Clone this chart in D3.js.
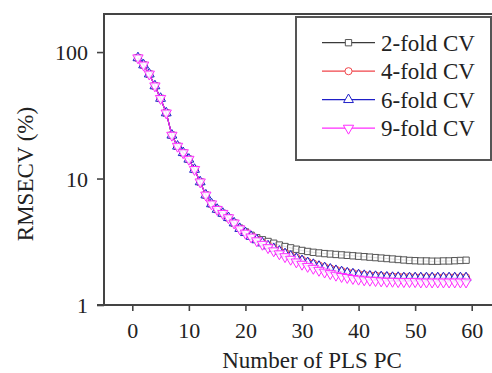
<!DOCTYPE html>
<html>
<head>
<meta charset="utf-8">
<script src="https://cdn.jsdelivr.net/npm/d3@7/dist/d3.min.js"></script>
<style>
  html, body { margin: 0; padding: 0; background: #fff; }
  svg { display: block; }
  svg text { font-family: "Liberation Serif", "DejaVu Serif", "Times New Roman", Times, serif !important; fill: #222; }
</style>
</head>
<body>
<svg id="chart" width="492" height="373"></svg>
<script>
// Number of PLS principal components
const pcs = d3.range(1, 60);

// RMSECV (%) for each cross-validation scheme
const fold2 = [90, 79, 67, 54, 43, 33, 22, 18, 16, 14.2, 11.8, 9.4, 7.4, 6.3, 5.7, 5.3, 4.9, 4.45, 4.05, 3.78,
  3.56, 3.4, 3.28, 3.18, 3.08, 2.98, 2.9, 2.83, 2.76, 2.7, 2.65, 2.61, 2.58, 2.55, 2.53, 2.51, 2.49, 2.47, 2.45, 2.43,
  2.41, 2.39, 2.37, 2.35, 2.33, 2.31, 2.29, 2.27, 2.25, 2.24, 2.23, 2.23, 2.22, 2.22, 2.23, 2.23, 2.24, 2.25, 2.26];
const fold4 = [90, 79, 67, 54, 43, 33, 22, 18, 16, 14.2, 11.8, 9.4, 7.4, 6.3, 5.7, 5.3, 4.9, 4.45, 4.02, 3.74,
  3.5, 3.3, 3.12, 2.97, 2.83, 2.7, 2.58, 2.47, 2.37, 2.28, 2.2, 2.13, 2.06, 2.0, 1.95, 1.9, 1.86, 1.82, 1.79, 1.76,
  1.74, 1.72, 1.71, 1.7, 1.69, 1.68, 1.68, 1.67, 1.67, 1.66, 1.66, 1.66, 1.66, 1.66, 1.66, 1.66, 1.66, 1.66, 1.66];
const fold6 = [90, 79, 67, 54, 43, 33, 22, 18, 16, 14.2, 11.8, 9.4, 7.4, 6.3, 5.7, 5.3, 4.9, 4.45, 4.02, 3.73,
  3.48, 3.27, 3.09, 2.93, 2.79, 2.66, 2.54, 2.43, 2.33, 2.24, 2.16, 2.09, 2.02, 1.97, 1.92, 1.87, 1.83, 1.79, 1.76, 1.73,
  1.71, 1.69, 1.68, 1.67, 1.66, 1.65, 1.65, 1.64, 1.64, 1.64, 1.64, 1.64, 1.64, 1.64, 1.64, 1.64, 1.64, 1.64, 1.64];
const fold9 = [90, 79, 67, 54, 43, 33, 22, 18, 16, 14.2, 11.8, 9.4, 7.4, 6.3, 5.7, 5.3, 4.9, 4.45, 4.0, 3.7,
  3.45, 3.22, 3.02, 2.84, 2.68, 2.54, 2.41, 2.3, 2.19, 2.1, 2.02, 1.95, 1.88, 1.82, 1.77, 1.72, 1.68, 1.65, 1.62, 1.6,
  1.58, 1.57, 1.56, 1.55, 1.54, 1.54, 1.53, 1.53, 1.53, 1.53, 1.52, 1.52, 1.52, 1.52, 1.52, 1.52, 1.52, 1.52, 1.52];

const seriesNames = ["2-fold CV", "4-fold CV", "6-fold CV", "9-fold CV"];
const seriesColors = ["#3a3a3a", "#f0454a", "#1f1fc8", "#ff2cff"];
const markerColors = ["#555555", "#f0454a", "#1f1fc8", "#ff2cff"];
const markerShapes = [d3.symbolSquare, d3.symbolCircle, d3.symbolTriangle, "triangleDown"];

const xTicks = [0, 10, 20, 30, 40, 50, 60];
const yTicks = [1, 10, 100];

const FONT = "'Liberation Serif', 'DejaVu Serif', 'Times New Roman', serif";

const svg = d3.select("#chart");

const x = d3.scaleLinear().domain([-5, 65]).range([104, 500]);
const y = d3.scaleLog().domain([1, 200]).range([305, 14]);

const axisColor = "#444";

// plot frame (the right side runs past the edge of the canvas)
svg.append("rect")
  .attr("x", x(-5)).attr("y", y(200))
  .attr("width", x(65) - x(-5)).attr("height", y(1) - y(200))
  .attr("fill", "none").attr("stroke", axisColor).attr("stroke-width", 2);

// y axis
const yAxis = svg.append("g").attr("transform", `translate(${x(-5)},0)`)
  .call(d3.axisLeft(y).tickValues(yTicks).tickFormat(d3.format("d")).tickSize(7).tickPadding(9));
yAxis.attr("font-family", FONT);
yAxis.select(".domain").remove();
yAxis.selectAll("line").attr("stroke", axisColor).attr("stroke-width", 1.6);
yAxis.selectAll("text").attr("font-size", 22).attr("fill", "#222").attr("dy", "0.34em");

// x axis
const xAxis = svg.append("g").attr("transform", `translate(0,${y(1)})`)
  .call(d3.axisBottom(x).tickValues(xTicks).tickFormat(d3.format("d")).tickSize(6).tickPadding(11));
xAxis.attr("font-family", FONT);
xAxis.select(".domain").remove();
xAxis.selectAll("line").attr("stroke", axisColor).attr("stroke-width", 1.6);
xAxis.selectAll("text").attr("font-size", 22).attr("fill", "#222");

// extend the baseline left to meet the lowest y tick
svg.append("line").attr("x1", x(-5) - 7).attr("x2", x(-5))
  .attr("y1", y(1)).attr("y2", y(1)).attr("stroke", axisColor).attr("stroke-width", 2);

// axis titles
svg.append("text").attr("x", 312).attr("y", 368).attr("text-anchor", "middle")
  .attr("font-family", FONT).attr("font-size", 23).text("Number of PLS PC");
svg.append("text").attr("transform", "translate(33,174) rotate(-90)")
  .attr("text-anchor", "middle").attr("font-family", FONT).attr("font-size", 23).text("RMSECV (%)");

function symbolPath(shape, size) {
  if (shape === "triangleDown") {
    return d3.symbol().type(d3.symbolTriangle).size(size)();
  }
  return d3.symbol().type(shape).size(size)();
}
const markerSizes = [40, 40, 42, 46];

const line = d3.line().x((d, i) => x(pcs[i])).y(d => y(d));
const allSeries = [fold2, fold4, fold6, fold9];

allSeries.forEach((vals, k) => {
  const g = svg.append("g");
  g.append("path").datum(vals).attr("d", line)
    .attr("fill", "none").attr("stroke", seriesColors[k]).attr("stroke-width", 1.1);
  g.selectAll("path.m").data(vals).join("path").attr("class", "m")
    .attr("d", symbolPath(markerShapes[k], markerSizes[k]))
    .attr("transform", (d, i) => `translate(${x(pcs[i])},${y(d)})` + (markerShapes[k] === "triangleDown" ? " rotate(180)" : ""))
    .attr("fill", "#fff").attr("fill-opacity", 0.85)
    .attr("stroke", markerColors[k]).attr("stroke-width", 1);
});

// legend
const legend = svg.append("g");
legend.append("rect").attr("x", 296).attr("y", 17).attr("width", 195).attr("height", 143)
  .attr("fill", "#fff").attr("stroke", "#555").attr("stroke-width", 2);
const rowY = [42.7, 71.2, 99.7, 128.2];
seriesNames.forEach((name, k) => {
  const row = legend.append("g").attr("transform", `translate(0,${rowY[k]})`);
  row.append("line").attr("x1", 322).attr("x2", 375).attr("y1", 0).attr("y2", 0)
    .attr("stroke", seriesColors[k]).attr("stroke-width", 1.3);
  row.append("path").attr("d", symbolPath(markerShapes[k], markerSizes[k]))
    .attr("transform", `translate(348.5,0)` + (markerShapes[k] === "triangleDown" ? " rotate(180)" : ""))
    .attr("fill", "#fff").attr("stroke", markerColors[k]).attr("stroke-width", 1);
  row.append("text").attr("x", 381).attr("y", 0).attr("dy", "0.34em")
    .attr("font-family", FONT).attr("font-size", 23).text(name);
});
</script>
</body>
</html>
